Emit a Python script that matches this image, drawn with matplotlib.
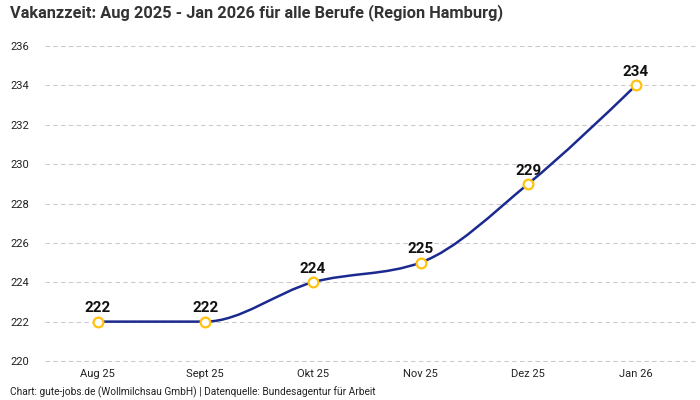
import numpy as np
import matplotlib
matplotlib.use("Agg")
import matplotlib.pyplot as plt
from matplotlib.path import Path
from matplotlib.patches import PathPatch

plt.rcParams['font.family'] = ['Roboto', 'DejaVu Sans']

months = ["Aug 25", "Sept 25", "Okt 25", "Nov 25", "Dez 25", "Jan 26"]
days = [222, 222, 224, 225, 229, 234]
yticks = [220, 222, 224, 226, 228, 230, 232, 234, 236]

line_color = "#1b2a8f"
dot_color = "#ffc20e"


def monotone_path(xs, ys):
    # d3 curveMonotoneX as cubic bezier segments
    xs = np.asarray(xs, float)
    ys = np.asarray(ys, float)
    n = len(xs)
    h = np.diff(xs)
    s = np.diff(ys) / h
    t = np.zeros(n)
    for i in range(1, n - 1):
        if s[i - 1] * s[i] <= 0:
            t[i] = 0
        else:
            p = (s[i - 1] * h[i] + s[i] * h[i - 1]) / (h[i - 1] + h[i])
            t[i] = (np.sign(s[i - 1]) + np.sign(s[i])) * min(abs(s[i - 1]), abs(s[i]), 0.5 * abs(p))
    t[0] = (3 * s[0] - t[1]) / 2
    t[-1] = (3 * s[-1] - t[-2]) / 2
    verts = [(xs[0], ys[0])]
    codes = [Path.MOVETO]
    for i in range(n - 1):
        dx = h[i] / 3
        verts += [(xs[i] + dx, ys[i] + dx * t[i]),
                  (xs[i + 1] - dx, ys[i + 1] - dx * t[i + 1]),
                  (xs[i + 1], ys[i + 1])]
        codes += [Path.CURVE4] * 3
    return Path(verts, codes)


fig = plt.figure(figsize=(7, 4), dpi=100)
ax = fig.add_axes([0.064, 0.0975, 0.929, 0.7875])

x = np.arange(len(months))
ax.add_patch(PathPatch(monotone_path(x, days), facecolor="none",
                       edgecolor=line_color, lw=1.8, zorder=3))
ax.plot(x, days, ls="none", marker="o", ms=7, mfc="white", mec=dot_color,
        mew=1.6, zorder=4, clip_on=False)

for xi, v in zip(x, days):
    ax.annotate(str(v), (xi, v), xytext=(0, 4.5), textcoords="offset points",
                ha="center", va="bottom", fontsize=11, fontweight="bold",
                color="#111111")

ax.set_xlim(-0.49, 5.55)
ax.set_ylim(220, 236)
ax.set_yticks(yticks)
ax.set_xticks(x)
ax.set_xticklabels(months)
ax.grid(axis="y", ls=(0, (4, 3)), color="#cccccc", lw=0.8, clip_on=False)
ax.set_axisbelow(True)
for sp in ax.spines.values():
    sp.set_visible(False)
ax.tick_params(axis="both", length=0, labelsize=8, colors="#222222")
ax.tick_params(axis="x", pad=6)
ax.tick_params(axis="y", pad=25)
for lab in ax.get_yticklabels():
    lab.set_horizontalalignment("left")

fig.text(0.014, 0.99, "Vakanzzeit: Aug 2025 - Jan 2026 für alle Berufe (Region Hamburg)",
         fontsize=11.8, fontweight="bold", color="#333333", va="top", ha="left")
fig.text(0.014, 0.004, "Chart: gute-jobs.de (Wollmilchsau GmbH) | Datenquelle: Bundesagentur für Arbeit",
         fontsize=7.3, color="#222222", va="bottom", ha="left")

fig.savefig("out.png", dpi=100)
